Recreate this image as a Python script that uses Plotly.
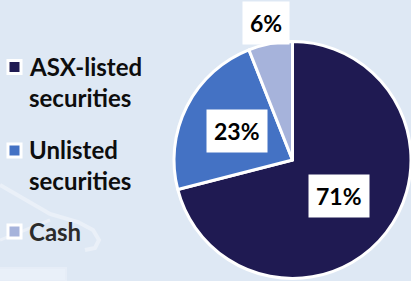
import math
import plotly.graph_objects as go

# ---- data ----
categories = ["ASX-listed securities", "Unlisted securities", "Cash"]
legend_lines = [["ASX-listed", "securities"], ["Unlisted", "securities"], ["Cash"]]
values = [71, 23, 6]
colors = ["#1f1a52", "#4472c4", "#a6b3db"]

W, H = 411, 281
BG = "#dee8f4"
FONT = "Lato"

def px(x):
    return x / W

def py(y):
    return 1 - y / H

# pie domain in pixels
dom_x = (174, 411)
dom_y = (40, 280)

fig = go.Figure()
fig.add_trace(go.Pie(
    labels=categories,
    values=values,
    sort=False,
    direction="clockwise",
    rotation=0,
    marker=dict(colors=colors, line=dict(color="white", width=3)),
    textinfo="none",
    hoverinfo="label+percent",
    showlegend=False,
    domain=dict(x=[px(dom_x[0]), px(dom_x[1])], y=[py(dom_y[1]), py(dom_y[0])]),
))

# label positions derived from the data (slice mid angles)
cx = (dom_x[0] + dom_x[1]) / 2
cy = (dom_y[0] + dom_y[1]) / 2
R = min(dom_x[1] - dom_x[0], dom_y[1] - dom_y[0]) / 2
radial = [0.5, 0.53, 1.18]
total = sum(values)
cum = 0
annotations = []
for v, rf in zip(values, radial):
    mid = (cum + v / 2) / total * 2 * math.pi
    cum += v
    lx = cx + rf * R * math.sin(mid)
    ly = cy - rf * R * math.cos(mid)
    annotations.append(dict(
        x=px(lx), y=py(ly), xref="paper", yref="paper",
        text=f"{round(v / total * 100)}%", showarrow=False,
        font=dict(family=FONT, size=23, color="black", weight="bold"),
        bgcolor="white", borderpad=7, xanchor="center", yanchor="middle",
    ))

# legend drawn as annotations + shapes
line_centers = [[66, 97], [149, 180], [231]]
marker_centers = [67, 150.5, 231.5]
text_colors = ["#0d0d0d", "#0d0d0d", "#2b2b2b"]
shapes = []

# faint background decoration
deco = "#eaf0f8"
def path(points):
    return "M" + " L".join(f"{px(x)},{py(y)}" for x, y in points)
shapes.append(dict(type="path", xref="paper", yref="paper",
                   path=path([(0, 185), (50, 214), (78, 222), (93, 230), (99, 240), (95, 248), (85, 250)]),
                   line=dict(color=deco, width=4)))
shapes.append(dict(type="path", xref="paper", yref="paper",
                   path=path([(0, 240), (50, 220)]),
                   line=dict(color=deco, width=3)))
shapes.append(dict(type="rect", xref="paper", yref="paper",
                   x0=px(-5), x1=px(66), y0=py(281), y1=py(268),
                   line=dict(color="#e6edf7", width=2), fillcolor="#e9f0f9"))

for lines, centers, mc, col, tc in zip(legend_lines, line_centers, marker_centers, colors, text_colors):
    for t, yc in zip(lines, centers):
        annotations.append(dict(
            x=px(27), y=py(yc), xref="paper", yref="paper", text=t, showarrow=False,
            font=dict(family=FONT, size=24, color=tc, weight="bold"),
            xanchor="left", yanchor="middle",
        ))
    shapes.append(dict(type="rect", xref="paper", yref="paper",
                       x0=px(8), x1=px(21), y0=py(mc + 6.5), y1=py(mc - 6.5),
                       fillcolor=col, line=dict(color="white", width=3)))

fig.update_layout(
    width=W, height=H,
    margin=dict(l=0, r=0, t=0, b=0),
    paper_bgcolor=BG, plot_bgcolor=BG,
    annotations=annotations, shapes=shapes,
    showlegend=False,
)
fig.write_html("out.html", config={"displayModeBar": False},
               post_script="document.body.style.margin='0';document.body.style.overflow='hidden';")
